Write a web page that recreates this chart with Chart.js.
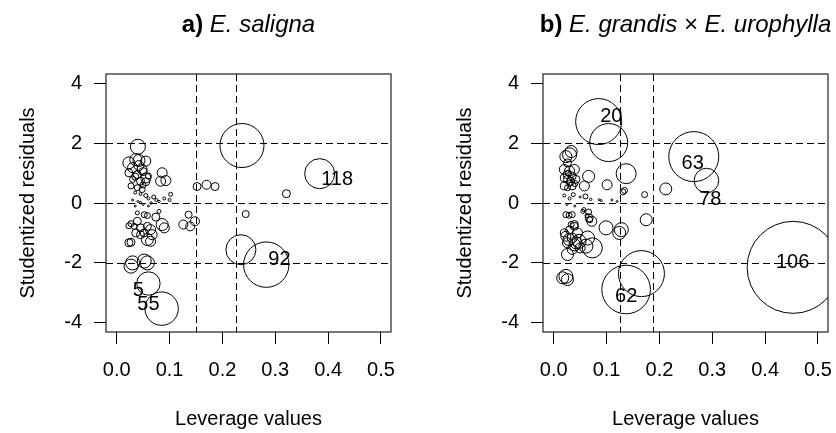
<!DOCTYPE html>
<html>
<head>
<meta charset="utf-8">
<script src="https://cdn.jsdelivr.net/npm/chart.js@4/dist/chart.umd.min.js"></script>
<style>
  html, body { margin: 0; padding: 0; background: #fff; overflow: hidden; }
  #wrap { position: relative; width: 836px; height: 433px; overflow: hidden; }
  .panel { position: absolute; top: 0; width: 418px; height: 433px; }
  .panel canvas { width: 418px; height: 433px; display: block; }
  #panelA { left: 0; }
  #panelB { left: 437px; }
</style>
</head>
<body>
<div id="wrap">
  <div class="panel" id="panelA"><canvas id="chartA" width="418" height="433"></canvas></div>
  <div class="panel" id="panelB"><canvas id="chartB" width="418" height="433"></canvas></div>
</div>
<script>
// axis ticks and cut-off lines
const xTicks = [0, 0.1, 0.2, 0.3, 0.4, 0.5];
const yTicks = [-4, -2, 0, 2, 4];
const residCuts = [-2, 0, 2];
const hatCutsA = [0.15, 0.225];
const hatCutsB = [0.125, 0.1875];

// a) E. saligna : leverage, studentized residual, bubble size
const levA = [
  0.237,0.235,0.283,0.384,0.321,0.244,0.060,0.085,0.040,0.152,
  0.170,0.186,0.136,0.126,0.139,0.148,0.086,0.083,0.093,0.102,
  0.030,0.027,0.052,0.058,0.023,0.036,0.042,0.055,0.030,0.048,
  0.023,0.039,0.055,0.030,0.045,0.055,0.027,0.039,0.048,0.042,
  0.050,0.035,0.060,0.050,0.035,0.045,0.055,0.060,0.070,0.075,
  0.030,0.040,0.050,0.065,0.080,0.090,0.035,0.060,0.100,0.045,
  0.039,0.052,0.058,0.074,0.080,0.027,0.023,0.039,0.033,0.045,
  0.058,0.064,0.086,0.090,0.036,0.045,0.052,0.067,0.058,0.064,
  0.027,0.023];
const resA = [
  1.92,-1.56,-2.06,0.98,0.31,-0.37,-2.69,-3.53,1.88,0.55,
  0.61,0.55,-0.39,-0.72,-0.78,-0.61,1.01,0.73,0.75,0.29,
  -2.00,-2.11,-1.94,-2.00,1.34,1.45,1.42,1.40,1.18,1.12,
  1.01,0.95,0.84,0.79,0.73,0.71,0.57,0.51,0.45,1.25,
  1.05,0.88,0.90,0.60,0.35,0.30,0.25,0.15,0.20,0.10,
  0.10,0.05,-0.05,0.00,0.05,0.15,-0.10,-0.10,0.10,0.02,
  -0.33,-0.39,-0.42,-0.47,-0.28,-0.69,-0.76,-0.61,-0.78,-0.83,
  -0.78,-0.89,-0.72,-0.83,-1.00,-1.06,-1.00,-1.06,-1.22,-1.28,
  -1.31,-1.33];
const sizeA = [
  22,15,22.7,15,4,3.5,11.7,16.7,7.5,4,
  4.5,4,3.5,4.5,4.5,4.5,5,5,5,2,
  7,7,7,7,6,6,6,5,5,5,
  4,4,5,3,4,4,3,3,3,5,
  4,3.5,3,3,1.5,1.5,2,1.5,2,1.5,
  1,1,1,1.2,1.2,1.5,1,1,1.5,1,
  2,3,3,4,2,3,3,4,3,4,
  4,5,6,5,4,4,4,5,6,5,
  4,4];
const labelsA = ['118', '92', '5', '55'];
const labelXA = [0.417, 0.308, 0.041, 0.060];
const labelYA = [0.78, -1.89, -2.91, -3.39];

// b) E. grandis x E. urophylla
const levB = [
  0.085,0.104,0.265,0.289,0.453,0.166,0.137,0.030,0.033,0.023,
  0.137,0.066,0.101,0.134,0.131,0.172,0.212,0.175,0.099,0.128,
  0.124,0.068,0.063,0.055,0.023,0.017,0.026,0.026,0.020,0.030,
  0.039,0.020,0.026,0.032,0.042,0.020,0.026,0.035,0.058,0.025,
  0.035,0.040,0.030,0.028,0.020,0.030,0.037,0.050,0.060,0.070,
  0.086,0.090,0.025,0.040,0.110,0.120,0.023,0.029,0.035,0.057,
  0.066,0.072,0.067,0.039,0.033,0.039,0.023,0.029,0.035,0.026,
  0.042,0.048,0.064,0.061,0.035,0.026,0.073,0.030,0.045,0.020,
  0.050,0.040];
const resB = [
  2.72,2.02,1.55,0.75,-2.15,-2.36,-2.89,1.61,1.72,1.55,
  0.98,0.89,0.61,0.42,0.37,0.28,0.47,-0.56,-0.83,-0.89,
  -1.00,-0.56,-0.42,-0.28,-2.45,-2.50,-2.56,1.34,1.12,1.07,
  1.12,0.84,0.79,0.73,0.79,0.57,0.51,0.57,0.57,0.95,
  0.90,0.65,0.65,1.00,0.25,0.15,0.28,0.20,0.22,0.12,
  0.11,0.08,-0.05,-0.10,0.10,0.05,-0.39,-0.41,-0.39,-0.22,
  -0.30,-0.61,-0.50,-0.72,-0.72,-0.78,-1.11,-1.22,-1.17,-1.33,
  -1.33,-1.28,-1.17,-1.44,-1.55,-1.72,-1.50,-0.90,-1.00,-1.00,
  -1.50,-1.40];
const sizeB = [
  23,19,25,12.3,46,23,24.3,7,6,6,
  10,6,5,3,3,3,6,6,7,7,
  6.5,3,2,2,7,6,6,4,5,5,
  5,4,4,4,4,4,3,4,5,4,
  4,3,3,3,1.5,1.5,2,1,2.5,1.2,
  1,1,1,1,1,1,3,3,3,2,
  3,5,4,4,3,4,5,6,5,5,
  6,7,7,7,5,6,10,4,5,4,
  5,6];
const labelsB = ['20', '63', '78', '106', '62'];
const labelXB = [0.109, 0.263, 0.296, 0.452, 0.137];
const labelYB = [2.89, 1.33, 0.13, -2.0, -3.11];

const FONT = "'Liberation Sans', Arial, Helvetica, sans-serif";

// box, dashed cut-off lines, point labels and the panel title
const panelPlugin = {
  id: 'panel',
  beforeDatasetsDraw(chart) {
    const o = chart.options.plugins.panel;
    const {ctx, chartArea: a, scales: {x, y}} = chart;
    ctx.save();
    ctx.strokeStyle = '#000';
    ctx.lineWidth = 1;
    ctx.setLineDash([7, 4]);
    residCuts.forEach(v => {
      const py = Math.round(y.getPixelForValue(v)) + 0.5;
      ctx.beginPath(); ctx.moveTo(a.left, py); ctx.lineTo(a.right, py); ctx.stroke();
    });
    o.vcuts.forEach(v => {
      const px = Math.round(x.getPixelForValue(v)) + 0.5;
      ctx.beginPath(); ctx.moveTo(px, a.top); ctx.lineTo(px, a.bottom); ctx.stroke();
    });
    ctx.restore();
  },
  afterDatasetsDraw(chart) {
    const o = chart.options.plugins.panel;
    const {ctx, chartArea: a, scales: {x, y}} = chart;
    ctx.save();
    ctx.fillStyle = '#000';
    ctx.font = '20px ' + FONT;
    ctx.textAlign = 'center';
    ctx.textBaseline = 'middle';
    o.labels.forEach((t, i) => {
      ctx.fillText(t, x.getPixelForValue(o.lx[i]), y.getPixelForValue(o.ly[i]));
    });
    ctx.strokeStyle = '#222';
    ctx.lineWidth = 1.2;
    ctx.strokeRect(a.left, a.top, a.right - a.left, a.bottom - a.top);

    // title: bold tag + italic species name
    const bold = 'bold 24px ' + FONT, ital = 'italic 24px ' + FONT;
    ctx.font = bold; const w1 = ctx.measureText(o.tag + ' ').width;
    ctx.font = ital; const w2 = ctx.measureText(o.name).width;
    let tx = (a.left + a.right) / 2 - (w1 + w2) / 2;
    ctx.textAlign = 'left';
    ctx.textBaseline = 'alphabetic';
    ctx.font = bold; ctx.fillText(o.tag + ' ', tx, 32);
    ctx.font = ital; ctx.fillText(o.name, tx + w1, 32);
    ctx.restore();
  }
};

function makePanel(id, lev, res, size, vcuts, labels, lx, ly, tag, name) {
  const pts = lev.map((v, i) => ({x: v, y: res[i], r: size[i]}));
  return new Chart(document.getElementById(id), {
    type: 'bubble',
    data: {
      datasets: [{
        data: pts,
        backgroundColor: 'rgba(0,0,0,0)',
        borderColor: '#000',
        borderWidth: 1,
        clip: 0
      }]
    },
    options: {
      responsive: false,
      animation: false,
      events: [],
      // no extra room for big bubbles: keep both boxes the same size
      layout: {autoPadding: false, padding: {top: 74, right: 27, left: 0, bottom: 0}},
      plugins: {
        legend: {display: false},
        tooltip: {enabled: false},
        panel: {vcuts, labels, lx, ly, tag, name}
      },
      scales: {
        x: {
          type: 'linear',
          min: -0.0203,
          max: 0.519,
          afterFit(s) { s.height = 101; },
          afterBuildTicks(s) { s.ticks = xTicks.map(v => ({value: v})); },
          ticks: {
            color: '#000',
            font: {family: FONT, size: 20},
            padding: 14,
            maxRotation: 0,
            autoSkip: false,
            callback: v => v.toFixed(1)
          },
          grid: {drawOnChartArea: false, drawTicks: true, tickLength: 12, color: '#000'},
          border: {display: false},
          title: {
            display: true,
            text: 'Leverage values',
            color: '#000',
            font: {family: FONT, size: 20},
            padding: {top: 0, bottom: 2}
          }
        },
        y: {
          type: 'linear',
          min: -4.31,
          max: 4.31,
          afterFit(s) { s.width = 106; },
          afterBuildTicks(s) { s.ticks = yTicks.map(v => ({value: v})); },
          ticks: {
            color: '#000',
            font: {family: FONT, size: 20},
            padding: 12,
            callback: v => String(v)
          },
          grid: {drawOnChartArea: false, drawTicks: true, tickLength: 12, color: '#000'},
          border: {display: false},
          title: {
            display: true,
            text: 'Studentized residuals',
            color: '#000',
            font: {family: FONT, size: 20},
            padding: {top: 16, bottom: 0}
          }
        }
      }
    },
    plugins: [panelPlugin]
  });
}

makePanel('chartA', levA, resA, sizeA, hatCutsA, labelsA, labelXA, labelYA, 'a)', 'E. saligna');
makePanel('chartB', levB, resB, sizeB, hatCutsB, labelsB, labelXB, labelYB, 'b)', 'E. grandis \u00d7 E. urophylla');
</script>
</body>
</html>
